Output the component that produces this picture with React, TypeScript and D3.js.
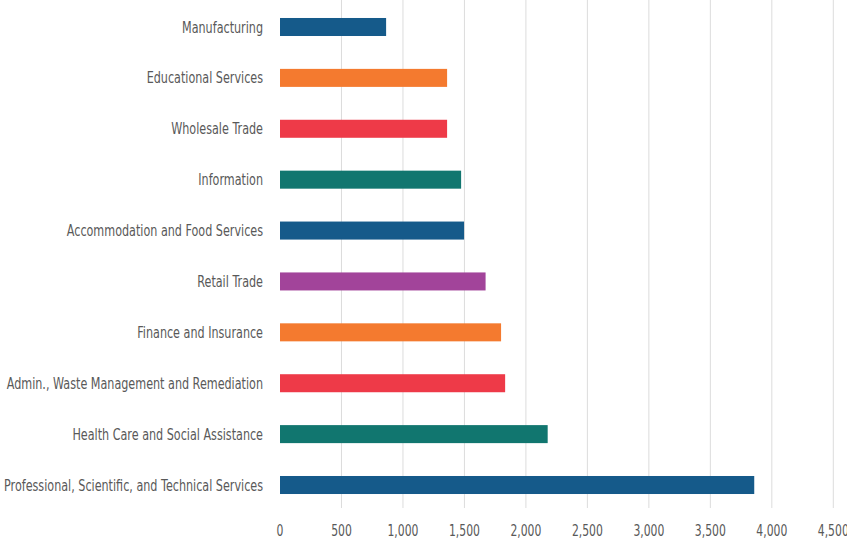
import React, { useEffect, useRef } from "react";
import * as d3 from "d3";

const categories = [
  "Manufacturing",
  "Educational Services",
  "Wholesale Trade",
  "Information",
  "Accommodation and Food Services",
  "Retail Trade",
  "Finance and Insurance",
  "Admin., Waste Management and Remediation",
  "Health Care and Social Assistance",
  "Professional, Scientific, and Technical Services",
];
const values = [863, 1359, 1359, 1473, 1497, 1672, 1798, 1831, 2177, 3857];
const barColors = [
  "#155a8a", "#f47a2f", "#ee3a48", "#11766f", "#155a8a",
  "#a2449a", "#f47a2f", "#ee3a48", "#11766f", "#155a8a",
];
const tickValues = [0, 500, 1000, 1500, 2000, 2500, 3000, 3500, 4000, 4500];

const W = 847;
const H = 541;
const FONT = "'DejaVu Sans', sans-serif";

export default function App() {
  const ref = useRef<SVGSVGElement>(null);
  useEffect(() => {
    const svg = d3.select(ref.current);
    svg.selectAll("*").remove();
    const x = d3.scaleLinear().domain([0, 4500]).range([280, 833.3]);
    const y = d3
      .scaleBand<string>()
      .domain(categories)
      .range([1.55, 510.45])
      .paddingInner(0.646)
      .paddingOuter(0.323);

    svg
      .append("g")
      .selectAll("line")
      .data(tickValues.slice(1))
      .join("line")
      .attr("x1", (d) => x(d))
      .attr("x2", (d) => x(d))
      .attr("y1", 0)
      .attr("y2", 508)
      .attr("stroke", "#dcdcdc")
      .attr("stroke-width", 1);

    svg
      .append("g")
      .selectAll("rect")
      .data(categories)
      .join("rect")
      .attr("x", x(0))
      .attr("y", (d) => y(d)!)
      .attr("width", (d, i) => x(values[i]) - x(0))
      .attr("height", y.bandwidth())
      .attr("fill", (d, i) => barColors[i]);

    const labels = svg
      .append("g")
      .selectAll("text")
      .data(categories)
      .join("text")
      .attr("x", 263)
      .attr("y", (d) => y(d)! + y.bandwidth() / 2)
      .attr("dy", "0.36em")
      .attr("text-anchor", "end")
      .attr("font-family", FONT)
      .attr("font-size", 15.5)
      .attr("fill", "#595959")
      .text((d) => d);

    const ticks = svg
      .append("g")
      .selectAll("text")
      .data(tickValues)
      .join("text")
      .attr("x", (d) => x(d))
      .attr("y", 531)
      .attr("dy", "0.36em")
      .attr("text-anchor", "middle")
      .attr("font-family", FONT)
      .attr("font-size", 15)
      .attr("fill", "#595959")
      .text((d) => d3.format(",")(d));

    // condense glyphs horizontally to mimic the reference's condensed typeface
    const longest = labels.nodes()[categories.length - 1] as SVGTextElement;
    const k = 259 / longest.getComputedTextLength();
    const condense = (sel: any) =>
      sel.each(function (this: SVGTextElement) {
        const L = this.getComputedTextLength();
        d3.select(this)
          .attr("textLength", L * k)
          .attr("lengthAdjust", "spacingAndGlyphs");
      });
    condense(labels);
    condense(ticks);
  }, []);

  return (
    <svg
      ref={ref}
      width={W}
      height={H}
      style={{ position: "absolute", left: 0, top: 0, background: "#fff" }}
    />
  );
}
